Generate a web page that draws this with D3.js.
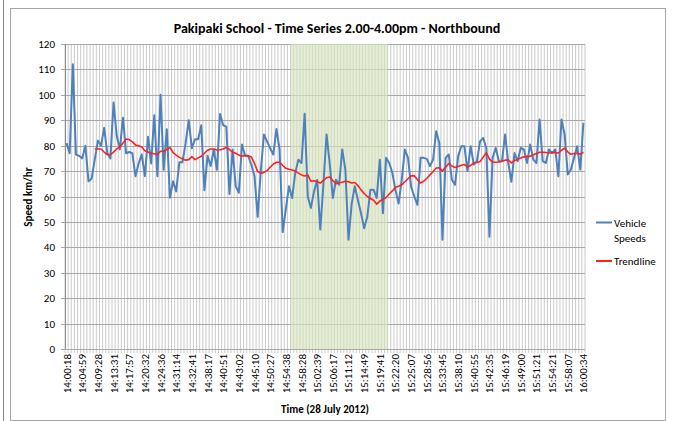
<!DOCTYPE html>
<html><head><meta charset="utf-8">
<script src="https://cdn.jsdelivr.net/npm/d3@7/dist/d3.min.js"></script>
<style>
body{margin:0;background:#fff;}
text{font-family:Carlito, Lato, "Liberation Sans", sans-serif;fill:#000;}
</style>
</head><body><svg id="c" width="673" height="421"></svg>
<script>
const tickLabels = ["14:00:18","14:04:59","14:09:28","14:13:31","14:17:57","14:20:32","14:24:36","14:31:14","14:32:41","14:38:17","14:40:51","14:43:02","14:45:10","14:50:27","14:54:38","14:58:28","15:02:39","15:06:17","15:11:12","15:14:49","15:19:41","15:22:20","15:25:07","15:28:56","15:33:45","15:38:10","15:40:55","15:42:35","15:46:19","15:49:00","15:51:21","15:54:21","15:58:07","16:00:34"];
const labelEvery = 5;
const speeds = [81,77,112,76.5,76,75,80,66,67,74.5,82,80,87,77,75,97,84,78.5,91,77,77.5,77,68,73,76.5,68,83.5,73,92,68,100,70.5,86.5,59.5,66,62,73.5,73.5,81,90,79,82.5,82.5,88,62.5,76,72,78.5,70.5,92.5,88,87.5,61,78.5,64,61.5,80.5,76,76,72.5,68,
52,70,84.4,81.7,79,76.5,86.6,78.5,46,55,64,59.4,69.3,74.5,73.2,92.6,60,55.5,62,66.5,47,65,84.4,73,59.4,66.6,64.6,78.5,70.6,43,57,64,58.6,53.4,47.5,52,62.7,62.7,59.4,74.5,53.4,75.2,73.2,69.3,62.5,57.2,66.6,78.5,75.2,63.8,60,56.7,75.2,75.2,74.8,72,74.5,85.7,81,
43,75.2,76.5,66.6,64.6,75.8,79.8,79.8,70,79.8,72.6,73.9,81.7,83,79,44.2,75.2,79.1,73.9,73.9,84.4,73.2,65.8,77.1,73.9,79.1,78.5,73.2,80.5,74.5,73.2,90.3,73.9,73.2,78.5,77.1,78.5,68,90.3,84.4,68.7,70.6,75.2,79.8,70.6,89];
const trend = [null,null,null,null,null,null,null,null,null,
78.7,78.7,78.7,77.5,76.5,76.5,77.5,78.7,79.5,81,82.6,82.4,81.5,80.3,80,79.5,78,77.5,77,76.8,76.5,77.8,77.8,78.5,79.3,77.3,76.3,75.4,74.8,74.3,74.5,75.7,74.5,75.2,75.8,77,78.2,78.7,78.7,78.3,78.4,78.7,79.4,78.5,77.4,77,76.3,75.8,76.1,76,75.5,73,
69.8,69.2,69.5,70.2,71.5,72.8,73.5,73.5,72.2,71.1,70.7,70.4,70,69.2,68.5,68.1,68.5,66,66.2,65.8,65.3,66.3,67.4,67.7,66.3,65,65.5,65.6,66,65.8,65.3,65.5,64.3,62.6,61.2,60,59.2,58.5,57,58.2,58.8,59.6,61,62.2,63.6,64,64.6,65.8,67,68.1,68.2,66.6,65.3,66,67.2,68.5,69.8,71.2,71.3,
70,71.5,73,72,71.4,71.8,72.3,72.6,71.6,72.2,73.2,73.4,73.8,75.5,77.2,74.7,73.5,73.5,73.6,73.9,74.3,74.3,73.2,74.2,74.6,75.2,75.6,75.8,75.8,76.4,76.9,77.4,77.4,77.3,77.1,77.2,77.3,77.1,78.2,79,77.6,76.6,76.9,77,76.6,77.4];
const yTicks = d3.range(0, 121, 10);
const shadeFrom = 72, shadeTo = 103; // category boundaries of the shaded period
const seriesNames = ["Vehicle Speeds", "Trendline"];

const svg = d3.select("#c");
const L = 65, R = 585, T = 44, B = 349;
const n = speeds.length;
const idx = d3.range(n);
const x = d3.scalePoint().domain(idx).range([L, R]).padding(0.5);
const step = x.step();
const y = d3.scaleLinear().domain([0, 120]).range([B, T]);

// outer frames
svg.append("line").attr("x1", 3.5).attr("x2", 3.5).attr("y1", 0).attr("y2", 421).attr("stroke", "#8a8a8a");
svg.append("rect").attr("x", 10.5).attr("y", 8.5).attr("width", 655).attr("height", 412).attr("fill", "none").attr("stroke", "#a6a6a6");

// vertical gridlines at category boundaries
const g = svg.append("g");
g.selectAll("line.v").data(d3.range(n + 1)).join("line")
  .attr("x1", k => L + k * step).attr("x2", k => L + k * step)
  .attr("y1", T).attr("y2", B + 4)
  .attr("stroke", "#bdbdbd").attr("stroke-width", 0.8);

// shaded period (over the fine gridlines, semi-transparent)
svg.append("rect").attr("x", L + shadeFrom * step).attr("y", T)
  .attr("width", (shadeTo - shadeFrom) * step).attr("height", B - T)
  .attr("fill", "#d7e4bd").attr("opacity", 0.65);

// horizontal gridlines
g.selectAll("line.h").data(yTicks).join("line")
  .attr("x1", L - 4).attr("x2", R).attr("y1", d => Math.round(y(d)) + 0.5).attr("y2", d => Math.round(y(d)) + 0.5)
  .attr("stroke", "#a8a8a8").attr("stroke-width", 1);
// axis line
svg.append("line").attr("x1", L + 0.5).attr("x2", L + 0.5).attr("y1", T).attr("y2", B).attr("stroke", "#8c8c8c");

// y tick labels
svg.append("g").selectAll("text").data(yTicks).join("text")
  .attr("x", 55).attr("y", d => y(d) + 4).attr("text-anchor", "end")
  .attr("font-size", 11).text(d => d);

// x tick labels
svg.append("g").selectAll("text").data(tickLabels).join("text")
  .attr("transform", (d, i) => `translate(${x(i * labelEvery) + 4},354) rotate(-90)`)
  .attr("text-anchor", "end").attr("font-size", 11).text(d => d);

// series
const lineGen = d3.line().defined(d => d[1] != null).x(d => x(d[0])).y(d => y(d[1]));
svg.append("path").datum(idx.map(i => [i, speeds[i]])).attr("d", lineGen)
  .attr("fill", "none").attr("stroke", "#4f81bd").attr("stroke-width", 2).attr("stroke-linejoin", "round");
svg.append("path").datum(idx.map(i => [i, trend[i]])).attr("d", lineGen)
  .attr("fill", "none").attr("stroke", "#ff2020").attr("stroke-width", 1.6).attr("stroke-linejoin", "round");

// titles
svg.append("text").attr("x", 337).attr("y", 33).attr("text-anchor", "middle")
  .attr("font-size", 14).attr("font-weight", "bold").text("Pakipaki School - Time Series 2.00-4.00pm - Northbound");
svg.append("text").attr("x", 325).attr("y", 413).attr("text-anchor", "middle")
  .attr("font-size", 11).attr("font-weight", "bold").text("Time (28 July 2012)");
svg.append("text").attr("transform", "translate(32,197) rotate(-90)").attr("text-anchor", "middle")
  .attr("font-size", 11).attr("font-weight", "bold").text("Speed km/hr");

// legend
const leg = svg.append("g");
const colors = ["#4f81bd", "#ff2020"];
const ly = [222.5, 261];
seriesNames.forEach((s, i) => {
  leg.append("line").attr("x1", 596).attr("x2", 612).attr("y1", ly[i]).attr("y2", ly[i]).attr("stroke", colors[i]).attr("stroke-width", 2);
  const words = i === 0 ? ["Vehicle", "Speeds"] : [s];
  words.forEach((w, j) => leg.append("text").attr("x", 614).attr("y", ly[i] + 4 + j * 15).attr("font-size", 11).text(w));
});
</script></body></html>
